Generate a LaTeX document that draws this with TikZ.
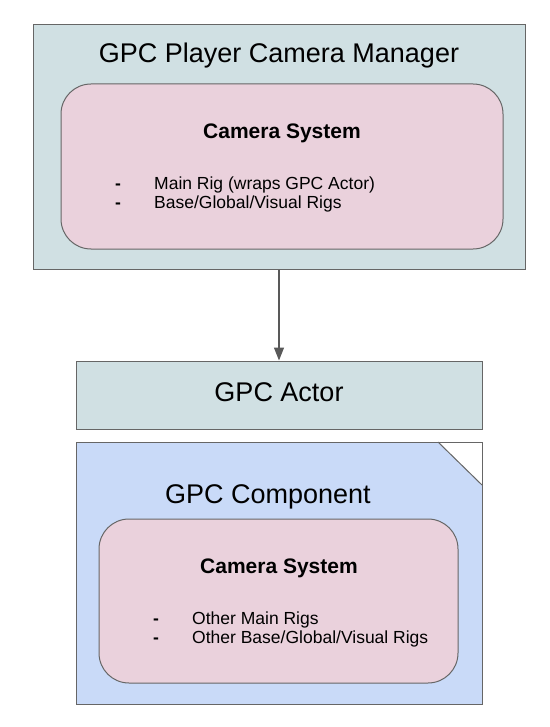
\documentclass[tikz,border=0pt]{standalone}
\usepackage{fontspec}
\setmainfont{Liberation Sans}
\usetikzlibrary{positioning,arrows.meta}
\definecolor{boxcyan}{HTML}{D0E0E3}
\definecolor{boxpink}{HTML}{EAD1DC}
\definecolor{boxblue}{HTML}{C9DAF8}
\definecolor{boxline}{HTML}{666666}
\definecolor{arrowgray}{HTML}{595959}
\newcommand{\rigitem}[1]{\makebox[39pt][l]{\textbf{-}}#1}

\begin{document}
\begin{tikzpicture}[x=1pt, y=-1pt, >={Triangle[length=13pt, width=10pt]},
    outerbox/.style={draw=boxline, fill=boxcyan, line width=1pt, inner sep=0pt},
    systembox/.style={draw=boxline, fill=boxpink, line width=1pt, rounded corners=30pt, inner sep=0pt},
    title/.style={font=\fontsize{27}{32}\selectfont},
    heading/.style={font=\bfseries\fontsize{21}{25}\selectfont},
    rigs/.style={font=\fontsize{17.5}{19}\selectfont, align=left, anchor=west, inner sep=0pt}]

    \useasboundingbox (0, 0) rectangle (549, 727);

    % ================= PLAYER CAMERA MANAGER =================
    \node[outerbox, minimum width=492pt, minimum height=244pt] (manager) at (279, 147) {};
    \node[title] (managertitle) at (279, 56) {GPC Player Camera Manager};
    \node[systembox, minimum width=442pt, minimum height=165pt] (mainsystem) at (282, 166.5) {};
    \node[heading] (mainheading) at (282, 133) {Camera System};
    \node[rigs] (mainrigs) at (115, 194) {\rigitem{Main Rig (wraps GPC Actor)}\\\rigitem{Base/Global/Visual Rigs}};

    % ================= ACTOR =================
    \node[outerbox, minimum width=406pt, minimum height=68pt] (actor) at (279, 395) {};
    \node[title] (actortitle) at (279, 392) {GPC Actor};

    % ================= COMPONENT (folded corner) =================
    \fill[boxblue] (76, 442) -- (438, 442) -- (482, 485) -- (482, 704) -- (76, 704) -- cycle;
    \draw[boxline, line width=1pt] (76, 442) rectangle (482, 704);
    \draw[boxline, line width=1pt] (438, 442) -- (482, 485);
    \node[title] (componenttitle) at (268, 497) {GPC Component};
    \node[systembox, minimum width=359pt, minimum height=164pt] (compsystem) at (278.5, 601) {};
    \node[heading] (compheading) at (279, 568) {Camera System};
    \node[rigs] (comprigs) at (153, 629) {\rigitem{Other Main Rigs}\\\rigitem{Other Base/Global/Visual Rigs}};

    % ================= CONNECTOR =================
    \draw[->, arrowgray, line width=1.3pt] (manager.south) -- (actor.north);

\end{tikzpicture}
\end{document}
